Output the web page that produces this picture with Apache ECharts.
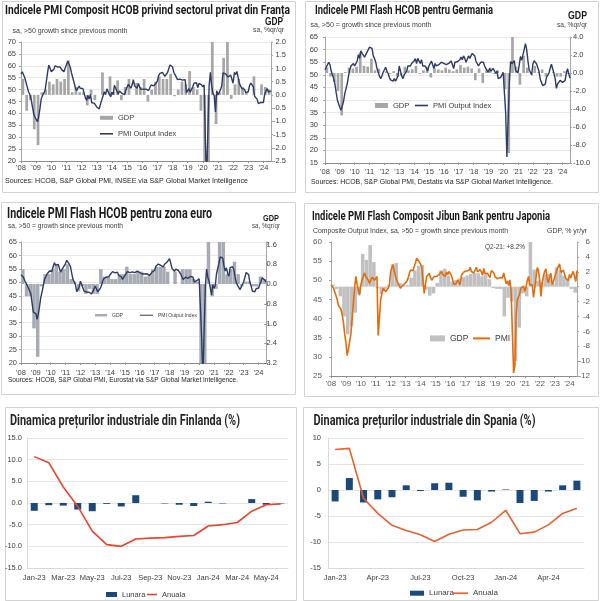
<!DOCTYPE html>
<html><head><meta charset="utf-8">
<script src="https://cdn.jsdelivr.net/npm/echarts@6/dist/echarts.min.js"></script>
<style>html,body{margin:0;padding:0;background:#fff}#c{width:600px;height:601px}</style>
</head><body><div id="c"></div>
<script>
// ---------- categories / tick labels ----------
const yearLabels = ["'08","'09","'10","'11","'12","'13","'14","'15","'16","'17","'18","'19","'20","'21","'22","'23","'24"];
const priceMonths = ["Jan-23","Feb-23","Mar-23","Apr-23","May-23","Jun-23","Jul-23","Aug-23","Sep-23","Oct-23","Nov-23","Dec-23","Jan-24","Feb-24","Mar-24","Apr-24","May-24","Jun-24"];

// ---------- France (monthly PMI Jan-2008..Jul-2024, quarterly GDP 2008Q1..2024Q2) ----------
const frPMI = [
56.5,57.5,57.0,55.0,53.0,51.0,49.0,48.0,46.0,43.0,40.0,38.5,
38.0,36.5,38.5,42.0,46.0,47.5,48.0,49.5,53.0,57.0,60.3,59.0,
57.5,57.0,58.5,60.0,60.0,59.5,59.8,59.5,58.5,58.0,57.5,59.0,
60.5,62.0,62.5,59.5,57.0,55.0,53.0,51.0,49.5,50.0,51.5,50.5,
50.0,50.5,48.5,46.5,45.5,47.5,46.0,48.0,44.5,44.0,44.3,44.5,
42.7,43.1,41.9,44.0,44.6,47.4,49.1,47.9,50.3,49.5,48.0,47.0,
48.9,47.9,51.8,50.6,49.3,48.1,49.4,49.5,48.4,48.2,47.9,49.7,
49.4,52.2,51.5,50.6,52.0,54.2,51.5,51.2,50.6,52.6,51.0,50.1,
50.3,50.2,50.0,50.2,49.4,49.6,50.1,51.9,52.7,51.6,51.4,52.7,
53.6,55.9,56.8,56.6,57.2,56.6,55.6,55.1,57.1,57.4,60.3,59.6,
59.6,57.3,56.3,56.9,54.2,55.0,54.4,54.9,54.0,54.1,54.2,48.7,
48.2,50.4,48.9,50.1,51.2,52.7,51.9,52.9,50.8,52.6,52.1,52.0,
51.1,52.0,28.9,11.1,32.1,51.7,57.3,51.6,48.5,47.5,40.6,49.5,
47.7,47.0,50.0,51.6,57.0,57.4,56.6,55.9,55.3,54.7,56.1,55.8,
52.7,57.2,56.3,57.6,57.0,52.5,51.7,50.4,51.2,50.2,48.7,49.1,
49.1,51.7,52.7,52.4,51.2,47.2,46.6,46.0,44.1,44.6,44.6,44.8,
44.6,48.1,48.3,50.5,48.9,48.8,49.5];
const frGDP = [
0.6,-0.6,-0.2,-1.3, -1.9,0.1,0.2,0.5, 0.4,0.6,0.5,0.6, 1.3,0.1,0.3,0.1,
0.1,-0.4,0.2,-0.2, 0.0,0.85,0.0,0.7, 0.1,0.55,-0.2,0.3, 0.6,0.0,0.45,0.3,
0.6,-0.25,0.2,0.5, 0.7,0.6,0.6,0.8, -0.05,0.2,0.5,0.4, 0.9,0.3,0.2,-0.6,
-5.9,-13.5,18.6,-1.1, 0.1,1.4,3.0,-0.15, 0.4,0.6,0.3,0.1, 0.0,0.7,0.0,0.4,
0.3,0.2];

// ---------- Germany ----------
const dePMI = [
52.0,53.0,54.0,55.0,54.0,51.5,50.0,48.5,46.5,43.0,40.0,38.5,
37.0,36.0,36.5,39.5,42.5,44.5,46.5,49.5,52.0,53.5,53.0,54.5,
53.5,54.5,55.5,58.0,56.5,59.5,58.5,58.0,57.0,56.5,59.0,60.0,
61.0,61.5,60.5,57.5,56.5,55.0,52.5,51.0,49.5,48.5,49.5,51.0,
51.5,53.0,51.5,50.5,49.0,48.0,48.0,47.5,48.5,47.5,48.0,49.5,
53.5,53.0,49.5,48.5,50.0,50.5,51.5,53.5,53.0,53.5,54.5,55.0,
55.5,56.4,54.5,56.5,55.5,54.5,56.0,53.5,54.0,53.5,52.5,51.5,
53.5,53.8,55.5,54.0,52.5,54.5,53.5,54.0,54.0,54.5,55.0,55.5,
54.5,54.0,54.0,54.5,54.5,54.5,55.5,54.0,52.5,55.0,55.0,55.2,
54.5,56.0,57.0,56.0,57.5,56.5,55.0,55.5,57.5,56.5,57.5,58.5,
59.0,57.5,55.5,54.5,53.5,54.0,55.0,55.5,55.0,53.5,52.5,52.0,
51.0,52.5,51.5,52.0,52.5,52.5,50.5,51.5,48.5,48.5,49.0,49.5,
51.0,50.5,35.0,17.4,32.3,47.0,55.3,54.4,54.7,55.6,51.7,52.0,
50.8,51.1,57.3,55.8,56.2,60.1,62.4,60.0,55.5,52.0,52.2,49.9,
54.3,55.6,55.1,54.3,53.7,51.3,48.1,46.9,45.7,45.1,46.3,49.0,
49.9,50.7,52.6,54.2,53.9,50.6,48.5,44.6,46.4,45.9,47.8,47.4,
47.0,46.3,47.7,50.6,52.4,50.4,48.7];
const deGDP = [
0.6,-0.4,-1.0,-2.0, -4.7,0.1,0.6,0.5, 0.7,2.3,0.8,0.7, 1.6,0.3,0.5,0.0,
0.2,-0.1,0.2,-0.4, -0.3,0.7,0.3,0.4, 0.8,-0.1,0.3,0.7, -0.5,0.5,0.4,0.3,
0.6,0.4,0.2,0.4, 0.9,0.6,0.7,0.5, -0.8,0.5,-1.1,0.3, 0.6,-0.1,0.3,0.0,
-1.8,-8.9,8.7,0.7, -1.3,1.9,0.6,0.0, 0.8,0.1,0.4,-0.4, 0.0,0.1,-0.4,-0.4,
0.2,-0.1];

// ---------- Euro area ----------
const euPMI = [
52.8,52.3,51.9,50.7,49.8,49.3,47.9,47.6,45.6,42.1,38.9,38.2,
38.4,36.2,38.3,41.1,44.4,46.4,47.0,51.1,50.9,53.0,53.7,54.2,
53.7,54.1,55.9,57.3,56.4,56.0,56.7,56.2,53.8,53.8,55.5,55.5,
57.0,58.2,57.6,56.8,55.8,53.3,51.1,50.7,49.1,46.5,47.0,48.3,
50.4,49.3,49.1,46.7,46.0,46.4,46.5,46.3,46.1,45.7,46.5,47.2,
48.6,47.9,46.5,46.9,47.7,48.7,50.5,51.5,52.2,51.9,51.7,52.1,
52.9,53.3,54.0,54.0,53.5,52.8,53.8,52.5,52.0,52.1,51.1,51.4,
52.6,53.3,54.0,53.9,53.6,54.2,53.9,54.3,53.6,53.9,54.2,54.3,
53.6,53.0,53.1,53.0,53.1,53.1,53.2,52.9,52.6,53.3,53.9,54.4,
54.4,56.0,56.4,56.8,56.8,56.3,55.7,55.7,56.7,56.0,57.5,58.1,
58.8,57.1,55.2,55.1,54.1,54.9,54.3,54.5,53.9,53.1,52.7,51.1,
51.0,51.9,51.6,51.5,51.8,52.2,51.5,51.9,50.1,50.6,50.6,50.9,
51.3,51.6,29.7,13.6,31.9,48.5,54.9,51.9,50.4,50.0,45.3,49.1,
47.8,48.8,53.2,53.8,57.1,59.5,60.2,59.0,56.2,54.2,55.4,53.3,
52.3,55.5,54.9,55.8,54.8,52.0,49.9,48.9,48.1,47.3,47.8,49.3,
50.3,52.0,53.7,54.1,52.8,49.9,48.6,46.7,47.2,46.5,47.6,47.6,
47.9,49.2,50.3,51.7,52.2,50.9,50.1];
const euGDP = [
0.6,-0.5,-0.5,-1.8, -2.95,-0.1,0.4,0.4, 0.6,0.8,0.5,0.6, 0.8,0.2,0.1,-0.3,
-0.1,-0.4,-0.2,-0.4, -0.4,0.6,0.3,0.3, 0.2,0.2,0.4,0.4, 0.7,0.4,0.4,0.5,
0.5,0.3,0.4,0.6, 0.7,0.7,0.7,0.5, 0.0,0.5,0.0,0.6, 0.6,0.6,0.2,0.1,
-3.6,-11.6,12.6,-0.5, -0.2,2.2,2.3,0.4, 0.6,0.9,0.4,-0.1, 0.1,0.1,-0.1,-0.1,
0.3,0.2];

// ---------- Japan ----------
const jpPMI = [
48.8,49.0,48.0,47.0,46.0,45.0,43.4,43.0,42.5,41.0,39.0,36.0,
33.8,30.3,32.0,34.0,36.0,40.0,44.0,48.0,51.0,49.0,47.5,46.1,
48.8,50.0,51.0,51.9,51.0,50.5,50.0,49.2,50.0,50.8,51.0,50.0,
50.0,51.0,35.6,35.2,45.0,46.6,47.9,47.5,47.0,47.3,48.0,48.8,
52.3,53.2,54.1,52.3,51.0,50.0,49.2,48.5,47.9,48.5,48.0,49.0,
48.8,49.7,50.5,51.7,52.7,52.3,52.5,53.6,54.5,55.8,56.0,54.8,
54.2,53.5,53.0,46.6,49.0,51.0,51.5,51.8,51.3,50.0,49.5,51.0,
51.5,51.0,50.5,51.5,51.8,52.3,51.5,51.5,51.0,52.2,51.5,52.3,
52.0,51.2,50.0,48.9,49.3,49.2,50.1,49.8,48.9,51.3,51.1,52.2,
52.3,52.4,52.9,52.6,53.4,52.3,52.2,51.9,51.7,53.4,52.2,52.2,
52.8,52.2,51.3,53.1,51.7,52.1,51.8,52.0,50.7,52.5,52.4,52.0,
50.9,50.7,50.4,50.8,50.7,50.8,50.6,51.9,51.5,49.1,49.8,48.6,
50.1,47.0,36.2,25.8,27.8,40.8,44.9,45.2,46.6,48.0,48.1,48.5,
47.1,48.2,49.9,51.0,48.8,48.9,48.8,45.5,47.9,50.7,53.3,52.5,
49.9,45.8,49.4,51.1,52.3,53.0,50.2,49.4,51.0,51.8,48.9,49.7,
50.7,51.1,52.9,52.9,54.3,52.1,52.2,52.6,52.1,50.5,50.0,50.0,
51.5,50.6,51.7,52.3,52.6,49.7,52.5];
const jpGDP = [
0.3,-0.3,-1.3,-4.0, -6.4,-5.3,-3.5,-1.0, 4.4,3.6,5.6,3.3, -0.2,-1.0,-0.3,0.2,
3.0,3.2,0.5,0.2, 0.2,1.2,2.2,2.8, 2.9,-0.4,-1.2,-0.9, 0.5,2.2,2.4,1.5,
0.7,0.9,1.1,1.3, 1.5,1.7,1.8,1.8, 1.4,1.6,1.0,-0.2, -0.3,-0.3,-4.0,-1.5,
-2.0,-10.0,-5.5,-0.9, -1.3,8.2,2.3,0.8, 0.6,1.6,1.7,0.5, 2.6,2.2,1.5,1.0,
-0.3,-0.8];

// ---------- Producer prices ----------
const finLunara = [-1.8,-0.5,-0.6,-1.5,-1.9,-0.2,-0.8,1.8,0.0,-0.1,-0.4,-0.7,0.3,-0.1,0.0,0.9,-0.4,-0.1];
const finAnuala = [10.7,9.3,3.7,-0.8,-6.5,-9.6,-10.0,-8.3,-8.1,-8.0,-7.7,-7.5,-5.3,-5.0,-4.5,-1.9,-0.4,-0.2];
const spLunara = [-2.2,2.3,-2.4,-1.8,-1.4,0.9,-0.2,1.3,1.4,-1.3,-2.0,-0.3,0.1,-2.5,-2.1,-0.3,0.9,1.8];
const spAnuala = [7.8,8.0,-1.6,-4.5,-6.8,-7.8,-8.6,-9.9,-8.5,-7.7,-7.6,-6.2,-3.9,-8.4,-8.1,-6.7,-4.5,-3.5];

// ---------- derived categories ----------
const months = [];
for (let y = 2008; y <= 2024; y++) for (let m = 1; m <= 12; m++) { if (y === 2024 && m > 7) break; months.push(y + '-' + (m < 10 ? '0' : '') + m); }
const quarters = [];
for (let y = 2008; y <= 2024; y++) for (let q = 1; q <= 4; q++) { if (y === 2024 && q > 2) break; quarters.push(y + 'Q' + q); }

const FONT = "'Liberation Sans', Arial, sans-serif";
const TFONT = "Roboto, 'Liberation Sans', Arial, sans-serif";
const LBL = '#404040';
const AX = '#a6a6a6';

const grids = [], xAxes = [], yAxes = [], series = [], legends = [], graphics = [];

function fmt1(v){ if (Math.abs(v) < 1e-9) return '0.0'; return v.toFixed(1); }

// one legend component per item, so each icon gets its own size
function leg(name, left, cy, w, h, fs) {
  legends.push({data:[{name:name, icon:'rect'}], selectedMode:false, padding:0, orient:'horizontal',
    left:left, top:cy - Math.max(h, fs * 1.2) / 2, itemWidth:w, itemHeight:h, itemGap:0,
    textStyle:{fontSize:fs, color:LBL, fontFamily:FONT}});
}

function pmiPanel(c) {
  const gi = grids.length;
  grids.push(Object.assign({containLabel:false}, c.grid));
  const xm = xAxes.length;
  xAxes.push({type:'category', gridIndex:gi, data:months, boundaryGap:false, position:'bottom',
    axisLine:{show:true, onZero:false, lineStyle:{color:'#8c8c8c', width:1}},
    axisTick:{show:true, interval:(i)=>i%12===0, length:2, lineStyle:{color:'#8c8c8c'}},
    axisLabel:{interval:(i)=>i%12===0, formatter:(v,i)=>yearLabels[Math.round(i/12)] || '', margin:c.xMargin, fontSize:c.fs, color:c.lc, fontFamily:FONT},
    splitLine:{show:false}});
  const xq = xAxes.length;
  xAxes.push({type:'category', gridIndex:gi, data:quarters, boundaryGap:true, show:false});
  const yl = yAxes.length;
  yAxes.push({type:'value', gridIndex:gi, position:'left', min:c.lmin, max:c.lmax, interval:c.lint,
    axisLine:{show:true, lineStyle:{color:AX}}, axisTick:{show:true, length:2, lineStyle:{color:AX}},
    axisLabel:{margin:c.lMargin, fontSize:c.fs, color:c.lc, fontFamily:FONT},
    splitLine:{show:c.split, lineStyle:{color:'#e3e3e3', width:0.8}}});
  const yr = yAxes.length;
  yAxes.push({type:'value', gridIndex:gi, position:'right', min:c.rmin, max:c.rmax, interval:c.rint,
    axisLine:{show:true, lineStyle:{color:AX}}, axisTick:{show:true, length:2, lineStyle:{color:AX}},
    axisLabel:{margin:c.rMargin, align:c.rAlign, fontSize:c.fs, color:c.lc, fontFamily:FONT, formatter:c.rfmt},
    splitLine:{show:false}});
  series.push({name:c.gdpName, type:'bar', xAxisIndex:xq, yAxisIndex:yr, data:c.gdp, barCategoryGap:c.gap,
    itemStyle:{color:c.barColor}, z:2, clip:true, silent:true});
  series.push({name:c.pmiName, type:'line', xAxisIndex:xm, yAxisIndex:yl, data:c.pmi, symbol:'none', showSymbol:false,
    lineStyle:{color:c.lineColor, width:c.lw}, itemStyle:{color:c.lineColor}, z:3, clip:true, silent:true});
  const L = c.leg;
  leg(c.gdpName, L.g[0], L.g[1], L.g[2], L.g[3], c.legFs);
  leg(c.pmiName, L.p[0], L.p[1], L.p[2], L.p[3], c.legFs);
}

// France
pmiPanel({grid:{left:21, top:42, width:250, height:119}, pmi:frPMI, gdp:frGDP,
  lmin:20, lmax:70, lint:5, rmin:-2.5, rmax:2.0, rint:0.5, rfmt:fmt1,
  lineColor:'#2d3b66', lw:1.4, barColor:'#a6a6a6', gap:'28%', split:true,
  lMargin:5, rMargin:15, rAlign:'right', xMargin:3, fs:7.5, lc:LBL,
  gdpName:'GDP', pmiName:'PMI Output Index', legFs:7.5,
  leg:{g:[100,118.3,13,4], p:[100,134.3,13,1.6]}});
// Germany
pmiPanel({grid:{left:325, top:37, width:245, height:126}, pmi:dePMI, gdp:deGDP,
  lmin:15, lmax:65, lint:5, rmin:-10, rmax:4, rint:2, rfmt:fmt1,
  lineColor:'#2d3b66', lw:1.4, barColor:'#a6a6a6', gap:'28%', split:true,
  lMargin:7, rMargin:3, rAlign:'left', xMargin:5, fs:7.5, lc:LBL,
  gdpName:'GDP ', pmiName:'PMI Output Index ', legFs:7.5,
  leg:{g:[375,106,13,5], p:[415,106,13,1.6]}});
// Euro area
pmiPanel({grid:{left:21, top:242, width:245, height:121}, pmi:euPMI, gdp:euGDP,
  lmin:20, lmax:65, lint:5, rmin:-3.2, rmax:1.7, rint:0.8,
  rfmt:(v)=> Math.abs(v-1.7) < 1e-6 ? '' : fmt1(v),
  lineColor:'#2d3b66', lw:1.4, barColor:'#a7acb4', gap:'6%', split:true,
  lMargin:4, rMargin:11, rAlign:'right', xMargin:6, fs:7.5, lc:LBL,
  gdpName:'GDP  ', pmiName:'PMI Output Index  ', legFs:5,
  leg:{g:[95,315.7,12,2.5], p:[140,315.7,13,1]}});
// Japan
pmiPanel({grid:{left:331, top:242, width:246, height:134}, pmi:jpPMI, gdp:jpGDP,
  lmin:25, lmax:60, lint:5, rmin:-12, rmax:6, rint:2, rfmt:(v)=>String(v),
  lineColor:'#e46c0a', lw:1.6, barColor:'#c0c0c0', gap:'5%', split:false,
  lMargin:9, rMargin:13, rAlign:'right', xMargin:4, fs:8, lc:'#595959',
  gdpName:'GDP   ', pmiName:'PMI', legFs:8.5,
  leg:{g:[430,339,15,6], p:[473,339,17,2]}});

// Producer price panels
function pricePanel(c) {
  const gi = grids.length;
  grids.push(Object.assign({containLabel:false}, c.grid));
  const xi = xAxes.length;
  xAxes.push({type:'category', gridIndex:gi, data:priceMonths, boundaryGap:true, position:'bottom',
    axisLine:{show:true, onZero:false, lineStyle:{color:'#d9d9d9'}}, axisTick:{show:false},
    axisLabel:{interval:c.every, margin:6, fontSize:7.5, color:LBL, fontFamily:FONT}});
  const yi = yAxes.length;
  yAxes.push({type:'value', gridIndex:gi, min:c.min, max:c.max, interval:5,
    axisLine:{show:true, lineStyle:{color:'#d9d9d9'}}, axisTick:{show:false},
    axisLabel:{margin:c.lMargin, fontSize:7.5, color:LBL, fontFamily:FONT, formatter:c.fmt},
    splitLine:{show:true, lineStyle:{color:'#dedede', width:0.8}}});
  series.push({name:c.mName, type:'bar', xAxisIndex:xi, yAxisIndex:yi, data:c.m, barWidth:7,
    itemStyle:{color:'#1b4a7a'}, z:2, silent:true});
  series.push({name:c.aName, type:'line', xAxisIndex:xi, yAxisIndex:yi, data:c.a, symbol:'none', showSymbol:false,
    lineStyle:{color:c.lineColor, width:1.6}, itemStyle:{color:c.lineColor}, z:3, silent:true});
  const L = c.leg;
  leg(c.mName, L.m[0], L.m[1], L.m[2], L.m[3], c.legFs);
  leg(c.aName, L.a[0], L.a[1], L.a[2], L.a[3], c.legFs);
}
pricePanel({grid:{left:27, top:438, width:261, height:130}, min:-15, max:15, every:1, lMargin:5, fmt:fmt1,
  m:finLunara, a:finAnuala, mName:'Lunara', aName:'Anuala', lineColor:'#e8452e', legFs:7.5,
  leg:{m:[106,595,11,5], a:[147,595,10,1.6]}});
pricePanel({grid:{left:328, top:438, width:256, height:130}, min:-15, max:10, every:2, lMargin:7, fmt:(v)=>String(v),
  m:spLunara, a:spAnuala, mName:'Lunara ', aName:'Anuala ', lineColor:'#e8602e', legFs:8,
  leg:{m:[410,594,14,5], a:[453,594,15,1.6]}});

// ---------- frames ----------
[[2,1,293,191],[305,1,293,191],[1,202,294,192],[304,203,294,193],[5,407,291,193],[303,407,295,193]].forEach(r=>{
  graphics.push({type:'rect', shape:{x:r[0]+0.5, y:r[1]+0.5, width:r[2], height:r[3]}, style:{fill:'none', stroke:'#d2d2d2', lineWidth:1}, silent:true, z:-1});
});

// ---------- texts (width-fitted) ----------
const mctx = document.createElement('canvas').getContext('2d');
function txt(text, x, y, size, weight, color, targetW, align, family) {
  const fam = family || FONT;
  const font = weight + ' ' + size + 'px ' + fam;
  mctx.font = font;
  const w = mctx.measureText(text).width || 1;
  const tw = targetW || w;
  const sx = targetW ? targetW / w : 1;
  const left = align === 'right' ? x - tw : x;
  graphics.push({type:'text', x:left, y:y, scaleX:sx, silent:true, z:10,
    style:{text:text, font:font, fill:color, textAlign:'left', textVerticalAlign:'middle'}});
}
// France
txt('Indicele PMI Composit HCOB privind sectorul privat din Franța', 5, 11, 13, 'bold', '#1a1a1a', 285, 'left', TFONT);
txt('sa, >50 growth since previous month', 12.5, 31.5, 7, 'normal', LBL, 115);
txt('GDP', 283, 22.5, 10, 'bold', '#1a1a1a', 18, 'right');
txt('sa, %qr/qr', 284, 30.5, 7, 'normal', LBL, 31, 'right');
txt('Sources: HCOB, S&P Global PMI, INSEE via S&P Global Market Intelligence', 5, 181.5, 7, 'normal', '#262626', 243);
// Germany
txt('Indicele PMI Flash HCOB pentru Germania', 315, 10.5, 13, 'bold', '#1a1a1a', 178, 'left', TFONT);
txt('sa, >50 = growth since previous month', 310.5, 25, 7, 'normal', LBL, 121);
txt('GDP', 587, 16.5, 10, 'bold', '#1a1a1a', 19, 'right');
txt('sa, %qr/qr', 587, 25, 7, 'normal', LBL, 30, 'right');
txt('Sources: HCOB, S&P Global PMI, Destatis via S&P Global Market Intelligence.', 311, 182.5, 7, 'normal', '#262626', 242);
// Euro area
txt('Indicele PMI Flash HCOB pentru zona euro', 7, 214, 14, 'bold', '#1a1a1a', 205, 'left', TFONT);
txt('sa, >50 = growth since previous month', 8, 226.5, 7, 'normal', LBL, 115);
txt('GDP', 279, 218, 9.5, 'bold', '#1a1a1a', 16, 'right');
txt('sa, %qr/qr', 280, 226.5, 7, 'normal', LBL, 28, 'right');
txt('Sources: HCOB, S&P Global PMI, Eurostat via S&P Global Market Intelligence.', 8, 379.5, 7.5, 'normal', '#262626', 230);
// Japan
txt('Indicele PMI Flash Composit Jibun Bank pentru Japonia', 312, 216.5, 13, 'bold', '#1a1a1a', 238, 'left', TFONT);
txt('Composite Output Index, sa, >50 = growth since previous month', 313, 230.5, 7.5, 'normal', LBL, 195);
txt('GDP, % yr/yr', 587, 230.5, 7.5, 'normal', LBL, 40, 'right');
txt('Q2-21: +8.2%', 485, 247, 7.5, 'normal', LBL, 40);
// Producer prices
txt('Dinamica prețurilor industriale din Finlanda (%)', 10, 421, 14.5, 'bold', '#262626', 230, 'left', TFONT);
txt('Dinamica prețurilor industriale din Spania (%)', 313.5, 421, 14.5, 'bold', '#262626', 222, 'left', TFONT);

const chart = echarts.init(document.getElementById('c'), null, {renderer:'canvas'});
chart.setOption({
  animation:false, backgroundColor:'#ffffff',
  grid:grids, xAxis:xAxes, yAxis:yAxes, series:series, legend:legends, graphic:graphics
});
</script></body></html>
